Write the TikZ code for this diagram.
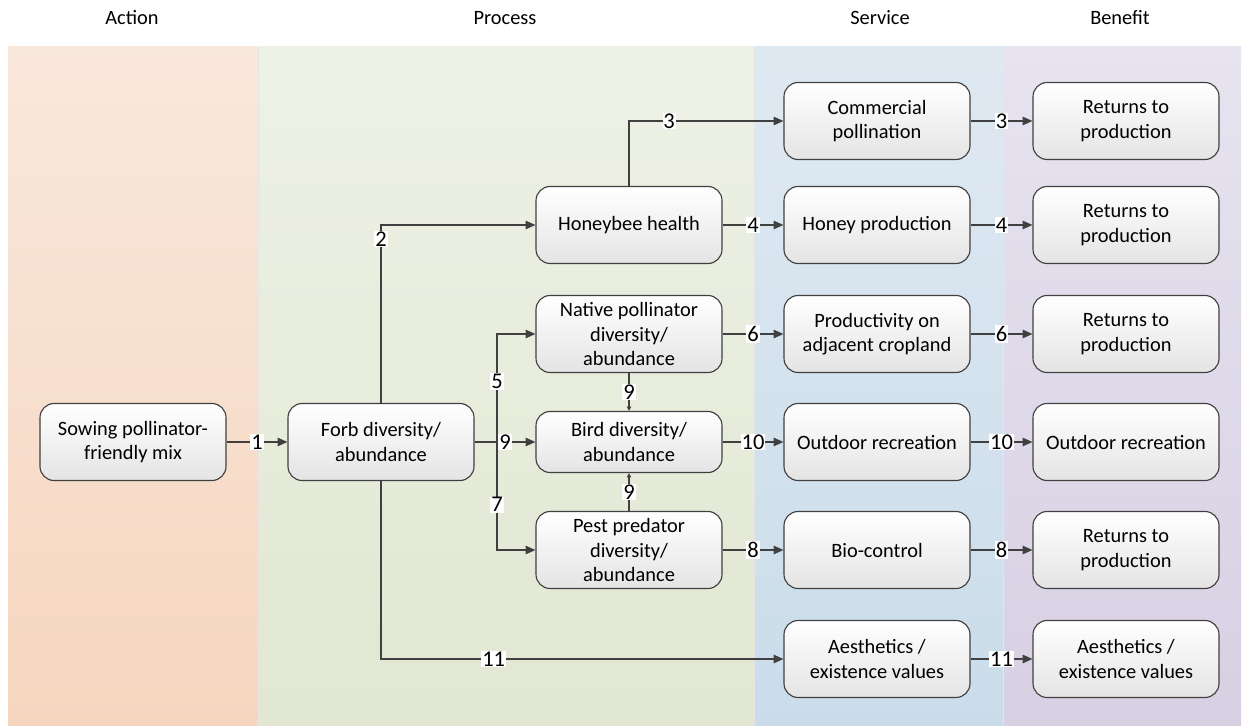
\documentclass[tikz,border=0pt]{standalone}
\usepackage{fontspec}
\setmainfont{Carlito}
\usetikzlibrary{arrows.meta}

\definecolor{linegray}{HTML}{404040}
\definecolor{boxgray}{HTML}{E4E4E4}
\definecolor{actiontop}{HTML}{F9E8DC}
\definecolor{actionbot}{HTML}{F6D6BF}
\definecolor{processtop}{HTML}{EEF1E6}
\definecolor{processbot}{HTML}{E1E7D2}
\definecolor{servicetop}{HTML}{DFE9F2}
\definecolor{servicebot}{HTML}{CADCEA}
\definecolor{benefittop}{HTML}{E7E3EF}
\definecolor{benefitbot}{HTML}{D7D0E3}

\begin{document}
\begin{tikzpicture}[
    >={Triangle[length=7pt,width=6pt]},
    box/.style={draw=linegray,line width=0.8pt,rounded corners=10pt,top color=white,bottom color=boxgray,
      minimum width=4.65cm,minimum height=1.925cm,align=center,inner sep=2pt,font=\fontsize{14.5}{17.5}\selectfont},
    num/.style={fill=white,inner sep=0.6pt,font=\fontsize{16}{16}\selectfont},
    link/.style={draw=linegray,line width=1pt},
    head/.style={font=\fontsize{14.5}{17.5}\selectfont}
  ]
      \useasboundingbox (0,0) rectangle (31.1,18.125);

      % columns
      \shade[top color=actiontop,bottom color=actionbot] (0.2,0) rectangle (6.45,16.95);
      \shade[top color=processtop,bottom color=processbot] (6.45,0) rectangle (18.85,16.95);
      \shade[top color=servicetop,bottom color=servicebot] (18.85,0) rectangle (25.075,16.95);
      \shade[top color=benefittop,bottom color=benefitbot] (25.075,0) rectangle (31.025,16.95);
      \draw[black!10,line width=0.6pt] (6.45,0) -- (6.45,16.95) (18.85,0) -- (18.85,16.95) (25.075,0) -- (25.075,16.95);

      \node[head] (a) at (3.3,17.675) {Action};
      \node[head] (b) at (12.625,17.675) {Process};
      \node[head] (c) at (22,17.675) {Service};
      \node[head] (d) at (28,17.675) {Benefit};

      % action and process
      \node[box] (1) at (3.325,7.075) {Sowing pollinator-\\friendly mix};
      \node[box,right of=1,xshift=5.2cm] (2) {Forb diversity/\\abundance};
      \node[box,right of=2,xshift=5.2cm,minimum height=1.525cm] (3) {Bird diversity/\\abundance};
      \node[box,above of=3,yshift=1.7cm] (4) {Native pollinator\\diversity/\\abundance};
      \node[box,below of=3,yshift=-1.7cm] (5) {Pest predator\\diversity/\\abundance};
      \node[box,above of=4,yshift=1.725cm] (6) {Honeybee health};
      \coordinate[right of=2,xshift=1.9cm] (fork);

      % service
      \node[box,right of=6,xshift=5.2cm,yshift=2.6cm] (7) {Commercial\\pollination};
      \node[box,right of=6,xshift=5.2cm] (8) {Honey production};
      \node[box,right of=4,xshift=5.2cm] (9) {Productivity on\\adjacent cropland};
      \node[box,right of=3,xshift=5.2cm] (10) {Outdoor recreation};
      \node[box,right of=5,xshift=5.2cm] (11) {Bio-control};
      \node[box,right of=5,xshift=5.2cm,yshift=-2.725cm] (12) {Aesthetics /\\existence values};

      % benefit
      \node[box,right of=7,xshift=5.225cm] (13) {Returns to\\production};
      \node[box,right of=8,xshift=5.225cm] (14) {Returns to\\production};
      \node[box,right of=9,xshift=5.225cm] (15) {Returns to\\production};
      \node[box,right of=10,xshift=5.225cm] (16) {Outdoor recreation};
      \node[box,right of=11,xshift=5.225cm] (17) {Returns to\\production};
      \node[box,right of=12,xshift=5.225cm] (18) {Aesthetics /\\existence values};

      \draw[link,->] (1) -- node[num] {1} (2);
      \draw[link,->] (2) |- node[num,pos=0.46] {2} (6);
      \draw[link,->] (6) |- node[num,pos=0.63] {3} (7);
      \draw[link,->] (6) -- node[num] {4} (8);
      \draw[link] (2) -- (fork);
      \draw[link,->] (fork) |- node[num,pos=0.28] {5} (4);
      \draw[link,->] (2) -- node[num] {9} (3);
      \draw[link,->] (fork) |- node[num,pos=0.29] {7} (5);
      \draw[link,->,>={Triangle[length=3pt,width=3pt]}] (4) -- node[num] {9} (3);
      \draw[link,->,>={Triangle[length=3pt,width=3pt]}] (5) -- node[num] {9} (3);
      \draw[link,->] (4) -- node[num] {6} (9);
      \draw[link,->] (3) -- node[num] {10} (10);
      \draw[link,->] (5) -- node[num] {8} (11);
      \draw[link,->] (2) |- node[num,pos=0.64] {11} (12);

      \draw[link,->] (7) -- node[num] {3} (13);
      \draw[link,->] (8) -- node[num] {4} (14);
      \draw[link,->] (9) -- node[num] {6} (15);
      \draw[link,->] (10) -- node[num] {10} (16);
      \draw[link,->] (11) -- node[num] {8} (17);
      \draw[link,->] (12) -- node[num] {11} (18);
    \end{tikzpicture}
\end{document}
